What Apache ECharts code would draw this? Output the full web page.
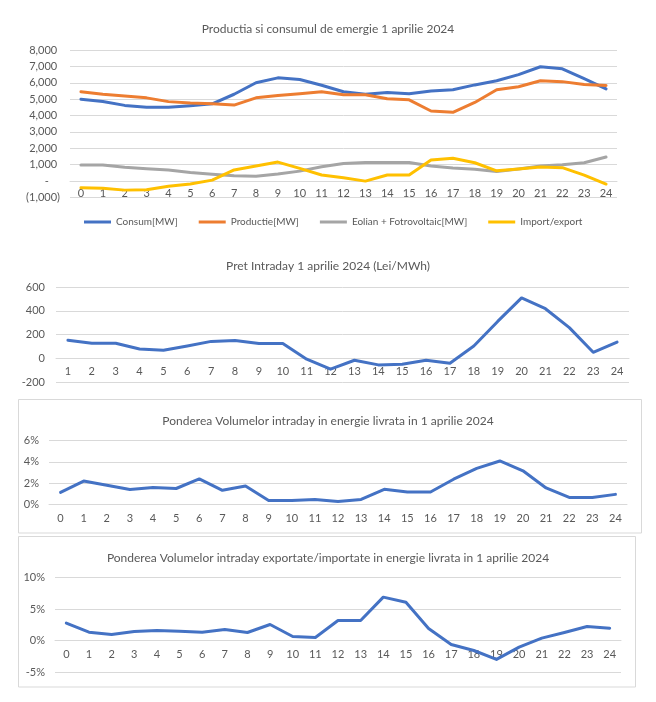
<!DOCTYPE html>
<html>
<head>
<meta charset="utf-8">
<script src="https://cdn.jsdelivr.net/npm/echarts@6/dist/echarts.min.js"></script>
<style>
html,body{margin:0;padding:0;background:#fff;}
#c{width:656px;height:702px;}
</style>
</head>
<body>
<div id="c"></div>
<script>
// ---- Chart 1 data ----
const hours0to24 = ['0','1','2','3','4','5','6','7','8','9','10','11','12','13','14','15','16','17','18','19','20','21','22','23','24'];
const consum = [5000,4860,4620,4500,4500,4600,4720,5300,6000,6300,6200,5850,5450,5300,5400,5330,5500,5580,5870,6120,6500,6980,6850,6250,5630];
const productie = [5450,5300,5200,5080,4850,4770,4720,4640,5080,5220,5330,5450,5270,5270,5020,4960,4280,4200,4800,5570,5760,6120,6070,5900,5840];
const eolianFv = [980,980,840,760,680,530,420,330,290,430,610,880,1080,1140,1140,1140,920,800,720,580,740,920,1000,1120,1470];
const importExport = [-410,-430,-550,-530,-310,-180,60,680,920,1160,780,370,200,0,370,370,1290,1390,1120,630,740,860,820,370,-180];
const seriesNames1 = ['Consum[MW]','Productie[MW]','Eolian + Fotrovoltaic[MW]','Import/export'];

// ---- Chart 2 data ----
const hours1to24 = ['1','2','3','4','5','6','7','8','9','10','11','12','13','14','15','16','17','18','19','20','21','22','23','24'];
const pretIntraday = [152,127,127,78,67,103,142,150,125,125,-8,-92,-17,-56,-50,-17,-42,103,310,508,417,258,50,136];

// ---- Chart 3 data (percent) ----
const pondereIntraday = [1.14,2.2,1.8,1.4,1.6,1.5,2.4,1.33,1.74,0.38,0.38,0.47,0.28,0.47,1.42,1.17,1.17,2.37,3.38,4.08,3.16,1.55,0.66,0.66,0.95];

// ---- Chart 4 data (percent) ----
const pondereExpImp = [2.75,1.32,0.95,1.43,1.59,1.48,1.32,1.75,1.27,2.54,0.63,0.48,3.17,3.17,6.88,6.08,1.9,-0.63,-1.59,-3.0,-1.06,0.37,1.27,2.22,1.96];

const titles = [
  'Productia si consumul de emergie 1 aprilie 2024',
  'Pret Intraday 1 aprilie 2024 (Lei/MWh)',
  'Ponderea Volumelor intraday in energie livrata in 1 aprilie 2024',
  'Ponderea Volumelor intraday exportate/importate in energie livrata in 1 aprilie 2024'
];

const FONT = 'Lato';
const TXT = '#595959';
const GRID = '#d9d9d9';
const colors1 = ['#4472C4','#ED7D31','#A5A5A5','#FFC000'];

function fmtThousands(n){ return n.toString().replace(/\B(?=(\d{3})+(?!\d))/g, ','); }
function accounting(v){
  if (v === 0) return '-    ';
  if (v < 0) return '(' + fmtThousands(-v) + ')';
  return fmtThousands(v) + ' ';
}

function xAx(gi, data, offset, margin){
  return {
    type:'category', gridIndex:gi, data:data, boundaryGap:true,
    position:'bottom', offset:offset,
    axisTick:{show:false},
    axisLine:{show:true, onZero:false, lineStyle:{color:GRID, width:1}},
    axisLabel:{color:TXT, fontFamily:FONT, fontSize:11, margin:margin, interval:0},
    splitLine:{show:false}
  };
}
function yAx(gi, min, max, interval, formatter, margin){
  return {
    type:'value', gridIndex:gi, min:min, max:max, interval:interval,
    axisLine:{show:false}, axisTick:{show:false},
    axisLabel:{color:TXT, fontFamily:FONT, fontSize:11, margin:margin, formatter:formatter},
    splitLine:{lineStyle:{color:GRID, width:1}}
  };
}
function lineSeries(name, data, color, xi, yi){
  return {
    name:name, type:'line', data:data, xAxisIndex:xi, yAxisIndex:yi,
    showSymbol:false, symbol:'none', smooth:false,
    lineStyle:{color:color, width:3, cap:'round', join:'round'},
    itemStyle:{color:color},
    emphasis:{disabled:true}, animation:false
  };
}

const titleCenters = [26, 263, 418, 555];
const chart = echarts.init(document.getElementById('c'), null, {renderer:'canvas'});
chart.setOption({
  animation:false,
  backgroundColor:'#ffffff',
  title: titles.map((t,i)=>({
    text:t, left:'center', top:titleCenters[i]-8,
    textStyle:{color:TXT, fontFamily:FONT, fontSize:12, fontWeight:'normal'}
  })),
  legend:{
    data:seriesNames1, left:84, top:217, itemWidth:27, itemHeight:3, itemGap:21,
    icon:'rect', padding:0,
    textStyle:{color:TXT, fontFamily:FONT, fontSize:10}
  },
  graphic:[
    {type:'rect', shape:{x:18.5, y:399.5, width:623, height:133.5}, style:{fill:'none', stroke:'#d9d9d9', lineWidth:1}, z:-1},
    {type:'rect', shape:{x:18.5, y:536.5, width:617, height:150.5}, style:{fill:'none', stroke:'#d9d9d9', lineWidth:1}, z:-1}
  ],
  grid:[
    {left:70, right:39, top:50, height:147.5},
    {left:56, right:27, top:287, height:95},
    {left:49, right:29, top:440.5, height:64},
    {left:55, right:35, top:577.5, height:94.5}
  ],
  xAxis:[
    xAx(0, hours0to24, -16.4, 7),
    xAx(1, hours1to24, -24, 8),
    xAx(2, hours0to24, 0, 8),
    xAx(3, hours0to24, -31.5, 8)
  ],
  yAxis:[
    yAx(0, -1000, 8000, 1000, accounting, 10),
    yAx(1, -200, 600, 200, v=>String(v), 11),
    yAx(2, 0, 6, 2, v=>v+'%', 10),
    yAx(3, -5, 10, 5, v=>v+'%', 10)
  ],
  series:[
    lineSeries(seriesNames1[0], consum, colors1[0], 0, 0),
    lineSeries(seriesNames1[1], productie, colors1[1], 0, 0),
    lineSeries(seriesNames1[2], eolianFv, colors1[2], 0, 0),
    lineSeries(seriesNames1[3], importExport, colors1[3], 0, 0),
    lineSeries('Pret Intraday', pretIntraday, '#4472C4', 1, 1),
    lineSeries('Pondere intraday', pondereIntraday, '#4472C4', 2, 2),
    lineSeries('Pondere export/import', pondereExpImp, '#4472C4', 3, 3)
  ]
});
</script>
</body>
</html>
